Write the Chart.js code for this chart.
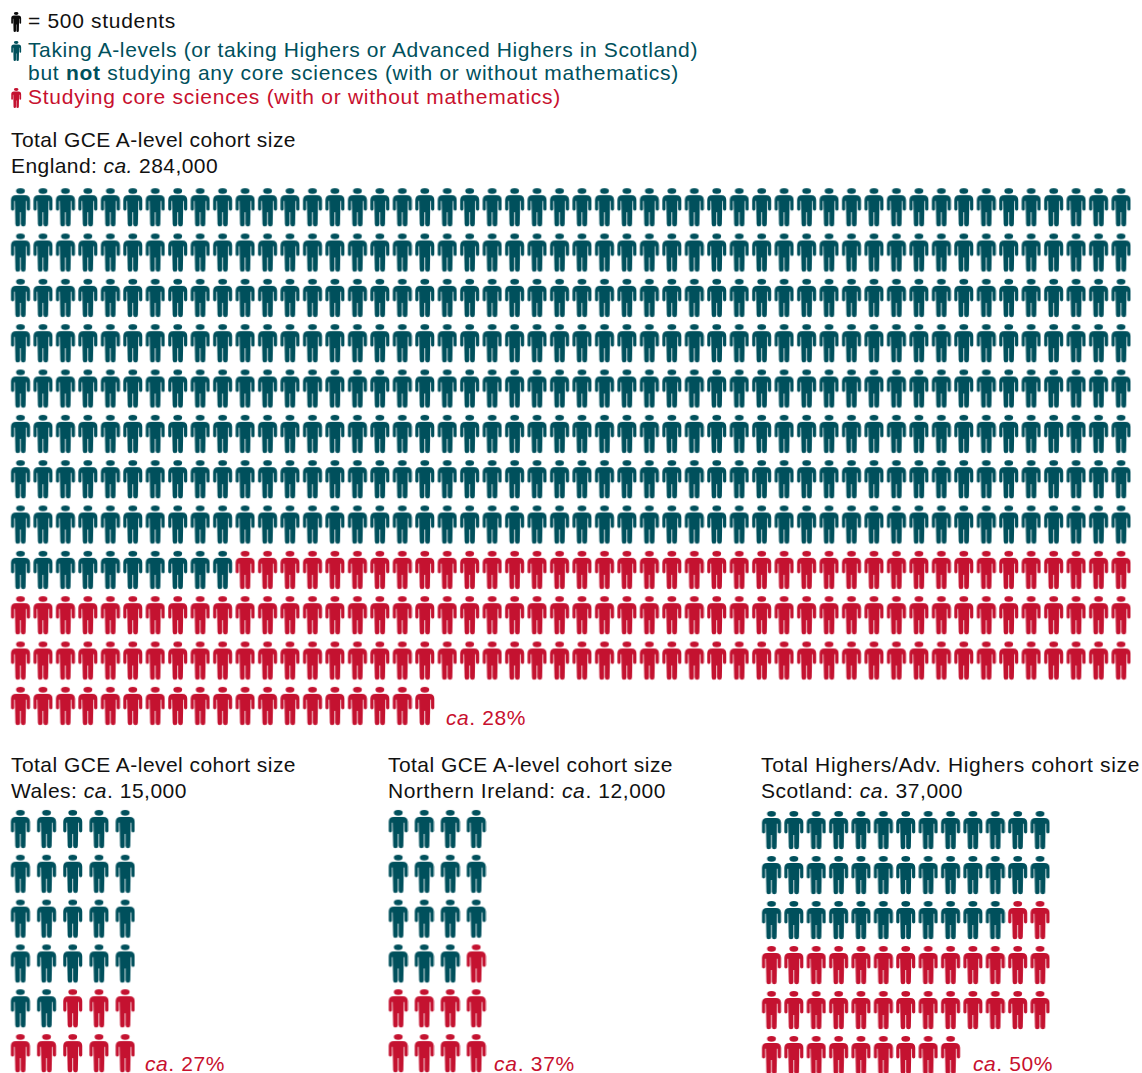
<!DOCTYPE html>
<html><head><meta charset="utf-8">
<script src="https://cdn.jsdelivr.net/npm/chart.js@4"></script>
<style>
html,body{margin:0;padding:0;background:#fff;width:1142px;height:1073px;overflow:hidden}
canvas{position:absolute}
.t{position:absolute;white-space:nowrap;font-family:"Liberation Sans",Arial,sans-serif;font-size:21px;line-height:24px;color:#111}
.k{color:#00505c}.r{color:#c8102e}
</style></head><body>
<div class="t" data-w="148" style="left:28px;top:9px">= 500 students</div>
<div class="t k" data-w="670" style="left:28px;top:38px">Taking A-levels (or taking Highers or Advanced Highers in Scotland)</div>
<div class="t k" data-w="651" style="left:28px;top:61px">but <b>not</b> studying any core sciences (with or without mathematics)</div>
<div class="t r" data-w="533" style="left:28px;top:85px">Studying core sciences (with or without mathematics)</div>
<div class="t" data-w="285" style="left:11px;top:128px">Total GCE A-level cohort size</div>
<div class="t" data-w="207" style="left:11px;top:154px">England: <i>ca.</i> 284,000</div>
<div class="t r" data-w="80" style="left:446px;top:706px"><i>ca</i>. 28%</div>
<div class="t" data-w="285" style="left:11px;top:753px">Total GCE A-level cohort size</div>
<div class="t" data-w="176" style="left:11px;top:779px">Wales: <i>ca</i>. 15,000</div>
<div class="t r" data-w="80" style="left:145px;top:1052px"><i>ca</i>. 27%</div>
<div class="t" data-w="285" style="left:388px;top:753px">Total GCE A-level cohort size</div>
<div class="t" data-w="278" style="left:388px;top:779px">Northern Ireland: <i>ca</i>. 12,000</div>
<div class="t r" data-w="81" style="left:494px;top:1052px"><i>ca</i>. 37%</div>
<div class="t" data-w="379" style="left:761px;top:753px">Total Highers/Adv. Highers cohort size</div>
<div class="t" data-w="202" style="left:761px;top:779px">Scotland: <i>ca</i>. 37,000</div>
<div class="t r" data-w="80" style="left:973px;top:1052px"><i>ca</i>. 50%</div>
<script>
const regions = ['England','Wales','Northern Ireland','Scotland'];
const notSciences = [410, 22, 15, 37];
const sciences = [159, 8, 9, 37];
const perRow = [50, 5, 4, 13];
const rows = [12, 6, 6, 6];
const legendRows = ['= 500 students','Taking A-levels','Studying core sciences'];
const legendY = [22, 51, 98];

const frames = [
  {left:9, top:185, width:1123, height:544},
  {left:7, top:807, width:131, height:269},
  {left:385, top:807, width:104, height:269},
  {left:760, top:808, width:291, height:270}
];
const TEAL='#00505c', RED='#c41230', BLACK='#0a0a0a';

document.querySelectorAll('.t[data-w]').forEach(el=>{
  const w=el.getBoundingClientRect().width;
  el.style.letterSpacing=((+el.dataset.w-w)/el.textContent.length)+'px';
});

function figure(color, s){
  const c=document.createElement('canvas');
  c.width=Math.ceil(19*s)+2; c.height=Math.ceil(38.4*s)+2;
  const g=c.getContext('2d');
  g.translate(1.25,1); g.scale(s,s); g.fillStyle=color;
  g.beginPath(); g.ellipse(9.5,2.85,4.4,2.85,0,0,Math.PI*2); g.fill();
  g.beginPath();
  g.moveTo(5,6.9); g.lineTo(14,6.9);
  g.quadraticCurveTo(19,6.9,19,11.8);
  g.lineTo(19,21); g.quadraticCurveTo(19,22.4,17.4,22.4); g.quadraticCurveTo(15.8,22.4,15.8,21);
  g.lineTo(15.8,12.8); g.lineTo(15.1,12.8);
  g.lineTo(14.6,36); g.quadraticCurveTo(14.6,38.3,12.3,38.3); g.quadraticCurveTo(9.9,38.3,9.9,36);
  g.lineTo(9.9,24); g.lineTo(9.1,24);
  g.lineTo(9.1,36); g.quadraticCurveTo(9.1,38.3,6.7,38.3); g.quadraticCurveTo(4.4,38.3,4.4,36);
  g.lineTo(3.9,12.8); g.lineTo(3.2,12.8);
  g.lineTo(3.2,21); g.quadraticCurveTo(3.2,22.4,1.6,22.4); g.quadraticCurveTo(0,22.4,0,21);
  g.lineTo(0,11.8); g.quadraticCurveTo(0,6.9,5,6.9);
  g.closePath(); g.fill();
  return c;
}
const tealIcon=figure(TEAL,1), redIcon=figure(RED,1);

function cells(start,count,n){
  const out=[];
  for(let i=start;i<start+count;i++) out.push({x:i%n,y:Math.floor(i/n)});
  return out;
}
function mount(f){
  const c=document.createElement('canvas');
  c.style.left=f.left+'px'; c.style.top=f.top+'px';
  c.style.width=f.width+'px'; c.style.height=f.height+'px';
  c.width=f.width; c.height=f.height;
  document.body.appendChild(c);
  return c;
}
function base(xMax,yMax){
  return {responsive:false,animation:false,devicePixelRatio:1,
    layout:{padding:0,autoPadding:false},
    plugins:{legend:{display:false},tooltip:{enabled:false}},
    scales:{
      x:{type:'linear',display:false,min:-0.5,max:xMax-0.5},
      y:{type:'linear',display:false,reverse:true,min:-0.5,max:yMax-0.5}
    }};
}
regions.forEach((name,i)=>{
  new Chart(mount(frames[i]),{type:'scatter',
    data:{datasets:[
      {label:name+' not studying core sciences',data:cells(0,notSciences[i],perRow[i]),pointStyle:tealIcon,clip:false},
      {label:name+' studying core sciences',data:cells(notSciences[i],sciences[i],perRow[i]),pointStyle:redIcon,clip:false}
    ]},
    options:base(perRow[i],rows[i])});
});
// key icons
const s=0.52, keyColors=[BLACK,TEAL,RED];
new Chart(mount({left:6,top:0,width:20,height:116}),{type:'scatter',
  data:{datasets:legendRows.map((label,i)=>({label,data:[{x:0,y:legendY[i]}],pointStyle:figure(keyColors[i],s),clip:false}))},
  options:{responsive:false,animation:false,devicePixelRatio:1,layout:{padding:0,autoPadding:false},
    plugins:{legend:{display:false},tooltip:{enabled:false}},
    scales:{x:{type:'linear',display:false,min:-1,max:1},y:{type:'linear',display:false,reverse:true,min:0,max:116}}}
});
</script>
</body></html>
